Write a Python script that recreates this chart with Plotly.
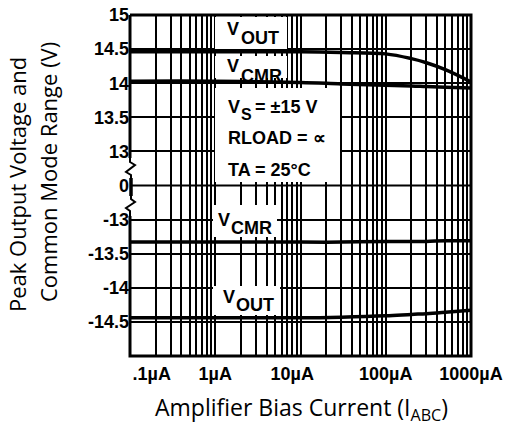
import plotly.graph_objects as go

# ---------------- data ----------------
X_CURRENT_UA = [0.1, 1, 10, 30, 100, 200, 300, 500, 1000]
VOUT_POS = [14.46, 14.46, 14.46, 14.45, 14.43, 14.36, 14.30, 14.20, 14.02]
VCMR_POS = [14.03, 14.03, 14.01, 13.99, 13.97, 13.96, 13.95, 13.94, 13.93]
VCMR_NEG = [-13.33, -13.33, -13.33, -13.33, -13.32, -13.32, -13.32, -13.31, -13.31]
VOUT_NEG = [-14.44, -14.44, -14.44, -14.43, -14.41, -14.39, -14.38, -14.36, -14.33]

X_TICK_POS = [0.18, 1, 8, 100, 1000]
X_TICK_TEXT = [".1\u00b5A", "1\u00b5A", "10\u00b5A", "100\u00b5A", "1000\u00b5A"]
YTOP_TICKS = [12.5, 13, 13.5, 14, 14.5, 15]
YTOP_TEXT = ["0", "13", "13.5", "14", "14.5", "15"]
YBOT_TICKS = [-14.5, -14, -13.5, -13]
YBOT_TEXT = ["-14.5", "-14", "-13.5", "-13"]

# ---------------- geometry helpers ----------------
W, H = 506, 425
PL, PR, PT, PB = 130, 471, 15, 356
MID = (PT + PB) / 2


def px(x):
    return (x - PL) / (PR - PL)


def py(y):
    return (PB - y) / (PB - PT)


def xdata(x):
    return 10 ** (-1 + 4 * (x - PL) / (PR - PL))


def ytop(y):
    return 15 - 2.5 * (y - PT) / (MID - PT)


def ybot(y):
    return -12.5 - 2.5 * (y - MID) / (PB - MID)


BOLD = "Liberation Sans, Arial, sans-serif"
REG = "Open Sans, Noto Sans, sans-serif"

fig = go.Figure()
line_style = dict(color="black", width=3.5, shape="spline")
fig.add_trace(go.Scatter(x=X_CURRENT_UA, y=VOUT_POS, mode="lines", line=line_style, xaxis="x", yaxis="y"))
fig.add_trace(go.Scatter(x=X_CURRENT_UA, y=VCMR_POS, mode="lines", line=line_style, xaxis="x", yaxis="y"))
fig.add_trace(go.Scatter(x=X_CURRENT_UA, y=VCMR_NEG, mode="lines", line=line_style, xaxis="x", yaxis="y2"))
fig.add_trace(go.Scatter(x=X_CURRENT_UA, y=VOUT_NEG, mode="lines", line=line_style, xaxis="x", yaxis="y2"))

minor_vals = []
for d in [0.1, 1, 10, 100]:
    for m in range(1, 10):
        minor_vals.append(round(d * m, 6))
minor_vals.append(1000)

tickfont = dict(family=BOLD, size=18, color="black", weight="bold")

fig.update_layout(
    width=W, height=H,
    margin=dict(l=PL, r=W - PR, t=PT, b=H - PB, pad=0),
    paper_bgcolor="white", plot_bgcolor="white",
    showlegend=False,
    xaxis=dict(type="log", range=[-1, 3], tickvals=X_TICK_POS, ticktext=X_TICK_TEXT,
               showgrid=False, zeroline=False, showline=False,
               ticks="outside", ticklen=1, tickcolor="rgba(0,0,0,0)",
               tickfont=tickfont, anchor="y2", automargin=False,
               minor=dict(tickvals=minor_vals, showgrid=True, gridcolor="black", gridwidth=2, ticks="")),
    yaxis=dict(domain=[0.5, 1], range=[12.5, 15], tickvals=YTOP_TICKS, ticktext=YTOP_TEXT,
               showgrid=True, gridcolor="black", gridwidth=2, zeroline=False, showline=False,
               ticks="", tickfont=tickfont, anchor="x", automargin=False),
    yaxis2=dict(domain=[0, 0.5], range=[-15, -12.5], tickvals=YBOT_TICKS, ticktext=YBOT_TEXT,
                showgrid=True, gridcolor="black", gridwidth=2, zeroline=False, showline=False,
                ticks="", tickfont=tickfont, anchor="x", automargin=False),
)

# white label boxes (above grid, below curves)
top_boxes = [(215, 17, 287, 49), (215, 56, 287, 78), (215, 88, 340, 182)]
bot_boxes = [(213, 205, 277, 237), (213, 286, 280, 315)]
for x0, y0, x1, y1 in top_boxes:
    fig.add_shape(type="rect", xref="x", yref="y", x0=xdata(x0), x1=xdata(x1), y0=ytop(y1), y1=ytop(y0),
                  fillcolor="white", line=dict(width=0), layer="between")
for x0, y0, x1, y1 in bot_boxes:
    fig.add_shape(type="rect", xref="x", yref="y2", x0=xdata(x0), x1=xdata(x1), y0=ybot(y1), y1=ybot(y0),
                  fillcolor="white", line=dict(width=0), layer="between")

# zero line at the break
fig.add_shape(type="line", xref="paper", yref="paper", x0=0, x1=1, y0=py(MID), y1=py(MID),
              line=dict(color="black", width=2))


# frame with broken left edge
def path(points):
    return "M " + " L ".join(f"{px(a):.5f},{py(b):.5f}" for a, b in points)


frame = [
    [(PL, PT), (PR, PT), (PR, PB), (PL, PB), (PL, 216)],
    [(PL, 158), (PL, PT)],
]
for pts in frame:
    fig.add_shape(type="path", xref="paper", yref="paper", path=path(pts), line=dict(color="black", width=3))
zig = [(PL, 158), (PL, 162), (135, 165), (126, 172), (131, 175), (131, 178)]
bar = [(131, 178), (131, 196)]
zig2 = [(131, 196), (131, 199), (135, 202), (126, 208), (130, 211), (PL, 216)]
for pts, w in [(zig, 2), (bar, 3.5), (zig2, 2)]:
    fig.add_shape(type="path", xref="paper", yref="paper", path=path(pts), line=dict(color="black", width=w))


def lab(text, x, y, size=18, family=BOLD, bold=True):
    fig.add_annotation(text=text, xref="paper", yref="paper", x=px(x), y=py(y),
                       xanchor="left", yanchor="middle", showarrow=False, borderpad=0,
                       font=dict(family=family, size=size, color="black", weight="bold" if bold else "normal"))


lab("V", 226, 29); lab("OUT", 240, 38)
lab("V", 226, 66); lab("CMR", 240, 76)
lab("V", 227, 107); lab("S", 240, 115, size=16); lab("= \u00b115 V", 254, 107)
lab("RLOAD = \u221d", 227, 138)
lab("TA = 25\u00b0C", 227, 170)
lab("V", 217, 220); lab("CMR", 230, 228)
lab("V", 222, 297); lab("OUT", 235, 305)

# axis titles
fig.add_annotation(text="Peak Output Voltage and", xref="paper", yref="paper", x=px(17), y=py(185),
                   textangle=-90, showarrow=False, xanchor="center", yanchor="middle",
                   font=dict(family=REG, size=22, color="black"))
fig.add_annotation(text="Common Mode Range (V)", xref="paper", yref="paper", x=px(48), y=py(172),
                   textangle=-90, showarrow=False, xanchor="center", yanchor="middle",
                   font=dict(family=REG, size=22, color="black"))
fig.add_annotation(text="Amplifier Bias Current (I<sub>ABC</sub>)", xref="paper", yref="paper",
                   x=px(301), y=py(408), showarrow=False, xanchor="center", yanchor="middle",
                   font=dict(family=REG, size=23, color="black"))

fig.write_html("out.html", config={"displayModeBar": False},
               post_script="document.body.style.margin='0';document.body.style.overflow='hidden';")
